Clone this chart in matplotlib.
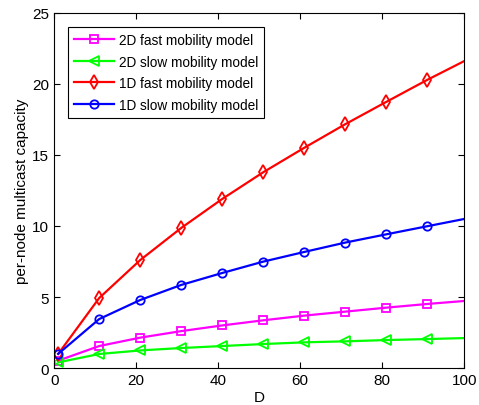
import numpy as np
import matplotlib
matplotlib.use('Agg')
import matplotlib.pyplot as plt

# data
D = [1, 11, 21, 31, 41, 51, 61, 71, 81, 91, 100]
fast_2d = [0.52, 1.55, 2.14, 2.60, 3.00, 3.36, 3.69, 3.97, 4.25, 4.51, 4.72]
slow_2d = [0.40, 0.99, 1.24, 1.41, 1.55, 1.69, 1.81, 1.88, 1.97, 2.04, 2.11]
fast_1d = [1.00, 4.93, 7.60, 9.86, 11.90, 13.78, 15.50, 17.16, 18.73, 20.28, 21.60]
slow_1d = [1.00, 3.45, 4.79, 5.85, 6.69, 7.49, 8.17, 8.83, 9.41, 9.98, 10.49]

plt.rcParams['font.family'] = ['Liberation Sans', 'DejaVu Sans']
plt.rcParams['font.size'] = 10

fig = plt.figure(figsize=(4.79, 4.06), dpi=100)
ax = fig.add_axes([0.113, 0.091, 0.856, 0.875])

marks = slice(0, 10)
ax.plot(D, fast_2d, color='#ff00ff', marker='s', lw=1.6, ms=5.5, mfc='none', mew=1.3,
        markevery=marks, label='2D fast mobility model')
ax.plot(D, slow_2d, color='#00ff00', marker='<', lw=1.6, ms=6.5, mfc='none', mew=1.3,
        markevery=marks, label='2D slow mobility model')
ax.plot(D, fast_1d, color='#ff0000', marker='d', lw=1.6, ms=7.5, mfc='none', mew=1.3,
        markevery=marks, label='1D fast mobility model')
ax.plot(D, slow_1d, color='#0000ff', marker='o', lw=1.6, ms=6, mfc='none', mew=1.3,
        markevery=marks, label='1D slow mobility model')

ax.set_xlim(0, 100)
ax.set_ylim(0, 25)
ax.set_xticks(np.arange(0, 101, 20))
ax.set_yticks(np.arange(0, 26, 5))
ax.tick_params(direction='in', top=True, right=True, length=4, labelsize=11)
ax.set_xlabel('D', fontsize=11, labelpad=2)
ax.set_ylabel('per-node multicast capacity', fontsize=11, labelpad=2)

leg = ax.legend(loc='upper left', bbox_to_anchor=(0.034, 0.96), borderaxespad=0,
                fontsize=9.8, handlelength=2.9, fancybox=False, edgecolor='black',
                framealpha=1, borderpad=0.45, labelspacing=0.55, handletextpad=0.4)
leg.get_frame().set_linewidth(0.8)

fig.savefig('out.png', dpi=100)
